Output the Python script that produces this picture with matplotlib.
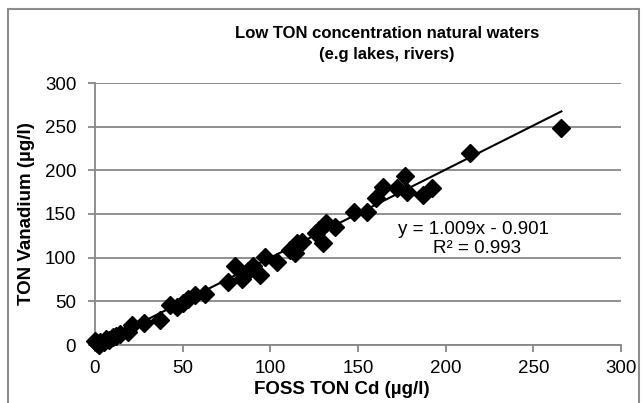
import matplotlib.pyplot as plt
import numpy as np

plt.rcParams['font.family'] = ['Liberation Sans', 'DejaVu Sans']

# FOSS TON Cd vs TON Vanadium (ug/l)
foss_cd = [0, 1, 2, 3, 5, 6, 8, 10, 12, 14, 19, 21, 28, 37, 43, 47, 50,
           53, 57, 63, 76, 80, 84, 87, 90, 94, 97, 104, 111, 114, 115, 118,
           126, 128, 130, 132, 137, 148, 155, 160, 164, 172, 177, 178, 187,
           192, 214, 266]
ton_v = [5, 2, 0, 3, 4, 7, 6, 9, 10, 13, 15, 23, 25, 29, 46, 44, 48,
         53, 57, 58, 72, 90, 76, 85, 90, 80, 101, 95, 109, 105, 117, 118,
         128, 132, 117, 140, 135, 152, 152, 168, 181, 180, 193, 175, 172,
         180, 220, 248]

slope = 1.009
intercept = -0.901

fig = plt.figure(figsize=(6.42, 4.03), dpi=100)
ax = fig.add_axes([95 / 642, 1 - 345 / 403, 526 / 642, 262 / 403])

grid_c = '#878787'
ax.set_xlim(0, 300)
ax.set_ylim(0, 300)
ax.set_xticks(np.arange(0, 301, 50))
ax.set_yticks(np.arange(0, 301, 50))
ax.yaxis.grid(True, color=grid_c, linewidth=1.3)
ax.set_axisbelow(True)
for s in ['top', 'right']:
    ax.spines[s].set_visible(False)
for s in ['left', 'bottom']:
    ax.spines[s].set_color(grid_c)
    ax.spines[s].set_linewidth(1.3)
ax.tick_params(direction='out', length=5, width=1.3, color=grid_c,
               labelsize=13.5)
ax.tick_params(axis='x', pad=6)
ax.tick_params(axis='y', pad=8.5)

xs = np.array([0, max(foss_cd)])
ax.plot(xs, slope * xs + intercept, color='black', linewidth=1.5, zorder=2)
ax.plot(foss_cd, ton_v, 'D', color='black', markersize=9.5, zorder=3,
        clip_on=False)

ax.text(216, 132, 'y = 1.009x - 0.901', ha='center', va='center',
        fontsize=13.5)
ax.text(218, 110, 'R² = 0.993', ha='center', va='center', fontsize=13.5)

fig.text(387 / 642, 1 - 44 / 403,
         'Low TON concentration natural waters\n(e.g lakes, rivers)',
         ha='center', va='center', fontsize=12, fontweight='bold',
         linespacing=1.45)
fig.text(342 / 642, 1 - 390 / 403, 'FOSS TON Cd (µg/l)', ha='center',
         va='center', fontsize=13.5, fontweight='bold')
fig.text(27 / 642, 1 - 214 / 403, 'TON Vanadium (µg/l)', ha='center',
         va='center', rotation=90, fontsize=13.5, fontweight='bold')

# chart frame
fig.patches.append(plt.Rectangle((8 / 642, -0.05), 631 / 642, 1.05 - 9 / 403,
                                 transform=fig.transFigure, fill=False,
                                 edgecolor='#8c8c8c', linewidth=1.5))

fig.savefig('out.png', dpi=100)
